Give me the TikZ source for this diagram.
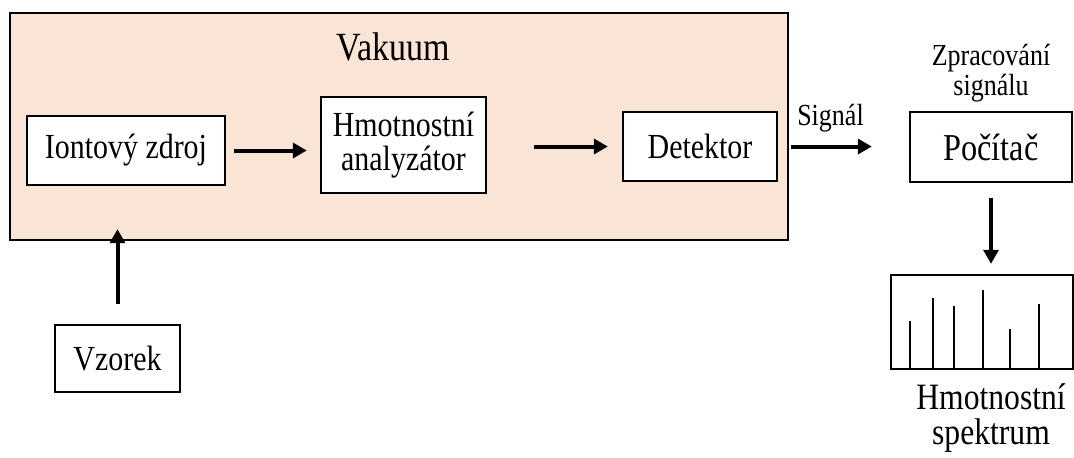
\documentclass[tikz,border=0pt]{standalone}
\usepackage{fontspec}
\setmainfont[FakeStretch=0.85]{Liberation Serif}
\usetikzlibrary{arrows.meta, positioning}
\definecolor{vakuumpeach}{RGB}{250, 228, 214}

\tikzset{
  blok/.style={draw=black, line width=1.2pt, fill=white, inner sep=2pt,
    font=\fontsize{17.6}{17}\selectfont, align=center},
  sipka/.style={line width=2pt, -{Triangle[length=7pt, width=7.5pt]}},
  popis/.style={font=\fontsize{15.3}{13.8}\selectfont, align=center, inner sep=1pt}
}

\begin{document}
\begin{tikzpicture}[x=0.5pt, y=-0.5pt]
  \useasboundingbox (0,0) rectangle (1074,457);

  % vakuova komora
  \draw[line width=1.3pt, fill=vakuumpeach] (10,13) rectangle (788,240);
  \node[font=\fontsize{20}{20}\selectfont] (vakuum) at (393,47) {Vakuum};

  % bloky
  \node[blok, minimum width=99pt, minimum height=34.5pt] (iontovy) at (126,150.5) {Iontový zdroj};
  \node[blok, minimum width=82.5pt, minimum height=48pt] (analyzator) at (403.5,145) {Hmotnostní\\analyzátor};
  \node[blok, minimum width=77pt, minimum height=34.5pt] (detektor) at (700,146.5) {Detektor};
  \node[blok, font=\fontsize{19}{19}\selectfont, minimum width=81pt, minimum height=35pt] (pocitac) at (991,147) {Počítač};
  \node[blok, minimum width=62.5pt, minimum height=33.5pt] (vzorek) at (117.5,358.5) {Vzorek};
  \node[draw, line width=1.2pt, minimum width=91pt, minimum height=47pt, inner sep=0pt] (spektrum) at (982,322) {};

  % spektralni cary
  \foreach \x/\h in {910/321, 933/298, 954/306, 983/290, 1010/329, 1039/304}
    \draw[line width=1pt] (\x,369) -- (\x,\h);

  % popisky
  \node[popis] (zpracovani) at (991,73) {Zpracování\\signálu};
  \node[font=\fontsize{18.6}{17.5}\selectfont, align=center] (spektrumtext) at (991,418) {Hmotnostní\\spektrum};

  % sipky
  \draw[sipka, shorten <=4pt, shorten >=6.5pt] (iontovy.east) -- (iontovy.east -| analyzator.west);
  \draw[sipka, shorten <=23.5pt, shorten >=7pt] (analyzator.east |- detektor.west) -- (detektor.west);
  \draw[sipka, shorten <=6.5pt, shorten >=18.5pt] (detektor.east) -- (detektor.east -| pocitac.west)
    node[popis, midway, above=5pt, xshift=-6.5pt] (signal) {Signál};
  \draw[sipka, shorten <=7.5pt, shorten >=5pt] (pocitac.south) -- (pocitac.south |- spektrum.north);
  \draw[sipka, shorten <=10pt, shorten >=21.5pt] (vzorek.north) -- (vzorek.north |- iontovy.south);
\end{tikzpicture}
\end{document}
